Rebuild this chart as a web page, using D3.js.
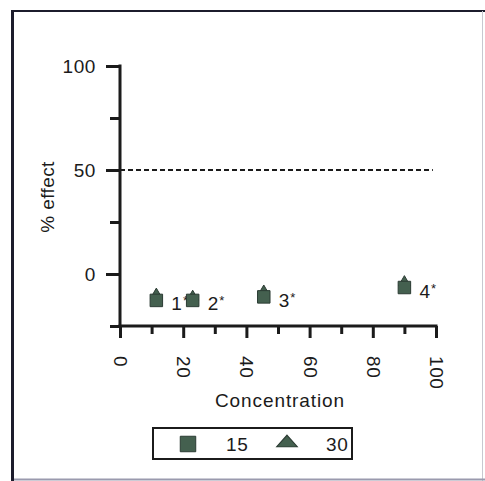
<!DOCTYPE html>
<html>
<head>
<meta charset="utf-8">
<script src="https://cdn.jsdelivr.net/npm/d3@7"></script>
<style>
  html, body { margin: 0; padding: 0; background: #fff; }
  svg { display: block; }
  text { font-family: "Liberation Sans", Arial, sans-serif; fill: #1b1b1b; }
</style>
</head>
<body>
<svg id="chart" width="485" height="481"></svg>
<script>
// Compound concentrations and measured % effect at the two time points
const concentrations = [11.5, 23, 45.5, 90];
const effect15 = [-12.7, -12.7, -11, -6.5];
const effect30 = [-10, -11, -8.5, -4];
const pointLabels = ["1", "2", "3", "4"];
const pointMarks = ["*", "*", "*", "*"];
const seriesNames = ["15", "30"];
const xTickValues = [0, 20, 40, 60, 80, 100];
const yTickValues = [100, 50, 0];
const referenceLevel = 50;

const svg = d3.select("#chart");
const ink = "#1b1b1b";
const markFill = "#44604f";
const markEdge = "#2b3b33";
const fontStack = "'Liberation Sans', Arial, sans-serif";

// outer frame
svg.append("line").attr("x1", 12.5).attr("x2", 12.5).attr("y1", 10).attr("y2", 481)
  .attr("stroke", "#1c1c2c").attr("stroke-width", 3);
svg.append("line").attr("x1", 11).attr("x2", 485).attr("y1", 11).attr("y2", 11)
  .attr("stroke", "#1c1c2c").attr("stroke-width", 2);
svg.append("line").attr("x1", 482.5).attr("x2", 482.5).attr("y1", 11).attr("y2", 481)
  .attr("stroke", "#c8c8d0").attr("stroke-width", 1);
svg.append("line").attr("x1", 14).attr("x2", 485).attr("y1", 479.5).attr("y2", 479.5)
  .attr("stroke", "#9a9aae").attr("stroke-width", 2);

const x = d3.scaleLinear().domain([0, 100]).range([120, 436]);
const y = d3.scaleLinear().domain([-25, 100]).range([326, 66]);

// y axis: major ticks labelled, minor ticks in between
const yAxisG = svg.append("g").attr("transform", `translate(${x(0)},0)`);
yAxisG.append("line").attr("x1", 0).attr("x2", 0).attr("y1", y(100) - 1.5).attr("y2", y(-25) + 1.5)
  .attr("stroke", ink).attr("stroke-width", 3);
yAxisG.call(d3.axisLeft(y).tickValues(d3.range(-25, 101, 25)).tickFormat("").tickSize(10).tickSizeOuter(0))
  .call(g => g.select(".domain").remove())
  .call(g => g.selectAll(".tick line").attr("stroke", ink).attr("stroke-width", 3));
yAxisG.append("g")
  .call(d3.axisLeft(y).tickValues(yTickValues).tickSize(14).tickPadding(10).tickSizeOuter(0))
  .call(g => g.select(".domain").remove())
  .call(g => g.selectAll(".tick line").attr("stroke", ink).attr("stroke-width", 3))
  .call(g => g.selectAll(".tick text").attr("font-size", 19).attr("fill", ink)
    .style("font-family", fontStack).style("letter-spacing", "0.6px").attr("dy", "0.36em"));

// x axis
const xAxisG = svg.append("g").attr("transform", `translate(0,${y(-25)})`);
xAxisG.append("line").attr("x1", x(0) - 1.5).attr("x2", x(100) + 1.5).attr("y1", 0).attr("y2", 0)
  .attr("stroke", ink).attr("stroke-width", 3);
xAxisG.call(d3.axisBottom(x).tickValues(d3.range(10, 100, 20)).tickFormat("").tickSize(8).tickSizeOuter(0))
  .call(g => g.select(".domain").remove())
  .call(g => g.selectAll(".tick line").attr("stroke", ink).attr("stroke-width", 3));
xAxisG.append("g")
  .call(d3.axisBottom(x).tickValues(xTickValues).tickSize(12).tickSizeOuter(0))
  .call(g => g.select(".domain").remove())
  .call(g => g.selectAll(".tick line").attr("stroke", ink).attr("stroke-width", 3))
  .call(g => g.selectAll(".tick text")
    .attr("font-size", 19).attr("fill", ink)
    .style("font-family", fontStack).style("letter-spacing", "0.6px")
    .attr("text-anchor", "start").attr("dy", null).attr("y", 0).attr("x", 0)
    .attr("transform", "translate(0,30) rotate(90)")
    .attr("dominant-baseline", "central"));

// axis titles
svg.append("text").attr("x", (x(0) + x(100)) / 2 + 2).attr("y", 407)
  .attr("text-anchor", "middle").attr("font-size", 19).style("letter-spacing", "0.9px")
  .text("Concentration");
svg.append("text").attr("transform", `translate(54,${y(37)}) rotate(-90)`)
  .attr("text-anchor", "middle").attr("font-size", 19).style("letter-spacing", "0.4px")
  .text("% effect");

// 50% reference line
svg.append("line").attr("x1", x(0)).attr("x2", x(99)).attr("y1", y(referenceLevel)).attr("y2", y(referenceLevel))
  .attr("stroke", ink).attr("stroke-width", 2).attr("stroke-dasharray", "5,3");

// point labels with a small raised asterisk
const pts = concentrations.map((c, i) => ({ c, v15: effect15[i], v30: effect30[i], label: pointLabels[i], mark: pointMarks[i] }));
const lbl = svg.append("g").selectAll("text").data(pts).join("text")
  .attr("x", d => x(d.c) + 15).attr("y", d => y(d.v15) + 10)
  .attr("font-size", 19);
lbl.append("tspan").text(d => d.label);
lbl.append("tspan").attr("font-size", 13).attr("dx", 1).attr("dy", -5).text(d => d.mark);

// markers: triangles (30) behind squares (15)
const tri = d3.symbol().type(d3.symbolTriangle).size(58);
const sq = d3.symbol().type(d3.symbolSquare).size(156);
svg.append("g").selectAll("path").data(pts).join("path")
  .attr("d", tri).attr("transform", d => `translate(${x(d.c)},${y(d.v30)})`)
  .attr("fill", markFill).attr("stroke", markEdge).attr("stroke-width", 1);
svg.append("g").selectAll("path").data(pts).join("path")
  .attr("d", sq).attr("transform", d => `translate(${x(d.c)},${y(d.v15)})`)
  .attr("fill", markFill).attr("stroke", markEdge).attr("stroke-width", 1);

// legend
const legend = svg.append("g");
legend.append("rect").attr("x", 153).attr("y", 428).attr("width", 199).attr("height", 31)
  .attr("fill", "#fff").attr("stroke", ink).attr("stroke-width", 2);
legend.append("path").attr("d", d3.symbol().type(d3.symbolSquare).size(240))
  .attr("transform", "translate(188,444)").attr("fill", markFill).attr("stroke", markEdge);
legend.append("text").attr("x", 226).attr("y", 451).attr("font-size", 19).style("letter-spacing", "0.6px").text(seriesNames[0]);
legend.append("path").attr("d", d3.symbol().type(d3.symbolTriangle).size(110))
  .attr("transform", "translate(287,443) scale(1.3,0.85)").attr("fill", markFill).attr("stroke", markEdge);
legend.append("text").attr("x", 326).attr("y", 451).attr("font-size", 19).style("letter-spacing", "0.6px").text(seriesNames[1]);
</script>
</body>
</html>
